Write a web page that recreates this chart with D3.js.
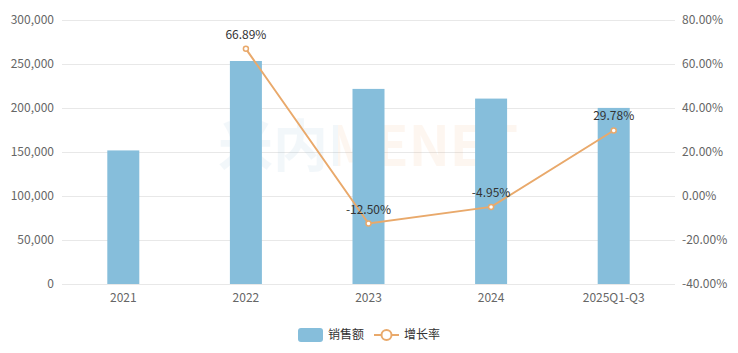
<!DOCTYPE html>
<html><head><meta charset="utf-8">
<script src="https://cdn.jsdelivr.net/npm/d3@7"></script>
<style>body{margin:0;background:#fff;font-family:"Microsoft YaHei","Noto Sans CJK SC","Noto Sans",sans-serif;}</style>
</head><body><svg id="c" width="738" height="353"></svg>
<script>
const categories = ["2021","2022","2023","2024","2025Q1-Q3"];
const sales = [151800, 253400, 221700, 210700, 200100];
const growth = [null, 66.89, -12.50, -4.95, 29.78];
const leftTicks = [0,50000,100000,150000,200000,250000,300000];
const rightTicks = [-40,-20,0,20,40,60,80];
const seriesNames = ["销售额","增长率"];

const svg = d3.select("#c");
const L = 62, R = 675, T = 20, B = 284;
const x = d3.scaleBand().domain(categories).range([L,R]);
const yL = d3.scaleLinear().domain([0,300000]).range([B,T]);
const yR = d3.scaleLinear().domain([-40,80]).range([B,T]);
const barColor = "#86bedb", lineColor = "#e9a96b";
const font = "'Microsoft YaHei','Noto Sans CJK SC','Noto Sans',sans-serif";

// grid
svg.append("g").selectAll("line").data(leftTicks).join("line")
  .attr("x1",L).attr("x2",R).attr("y1",d=>yL(d)+0.5).attr("y2",d=>yL(d)+0.5)
  .attr("stroke","#e8e8e8").attr("stroke-width",1);

// left axis labels
svg.append("g").selectAll("text").data(leftTicks).join("text")
  .attr("x",54).attr("y",d=>yL(d)).attr("dy","0.35em").attr("text-anchor","end")
  .attr("font-size",12).attr("fill","#666").attr("font-family",font)
  .text(d=>d3.format(",")(d));
// right axis labels
svg.append("g").selectAll("text").data(rightTicks).join("text")
  .attr("x",682).attr("y",d=>yR(d)).attr("dy","0.35em").attr("text-anchor","start")
  .attr("font-size",12).attr("fill","#666").attr("font-family",font)
  .text(d=>d.toFixed(2)+"%");
// x labels
svg.append("g").selectAll("text").data(categories).join("text")
  .attr("x",d=>x(d)+x.bandwidth()/2).attr("y",302).attr("text-anchor","middle")
  .attr("font-size",12).attr("fill","#666").attr("font-family",font)
  .text(d=>d);

// watermark: single text, two-tone via gradient
const defs = svg.append("defs");
const gr = defs.append("linearGradient").attr("id","wmg").attr("gradientUnits","userSpaceOnUse")
  .attr("x1",218).attr("x2",518).attr("y1",0).attr("y2",0);
gr.append("stop").attr("offset","0.4").attr("stop-color","#5b9bc8");
gr.append("stop").attr("offset","0.4").attr("stop-color","#f08a3c");
svg.append("text").attr("x",218).attr("y",166).attr("font-size",56).attr("font-weight","bold")
  .attr("font-family","'Noto Sans CJK SC',sans-serif").attr("opacity",0.07)
  .attr("textLength",300).attr("lengthAdjust","spacingAndGlyphs")
  .attr("fill","url(#wmg)").text("米内MENET");

// bars
const bw = 32;
svg.append("g").selectAll("rect").data(sales).join("rect")
  .attr("x",(d,i)=>x(categories[i])+x.bandwidth()/2-bw/2)
  .attr("width",bw).attr("y",d=>yL(d)).attr("height",d=>B-yL(d))
  .attr("fill",barColor);

// line
const pts = growth.map((g,i)=>({c:categories[i],g})).filter(p=>p.g!==null);
const line = d3.line().x(p=>x(p.c)+x.bandwidth()/2).y(p=>yR(p.g));
svg.append("path").datum(pts).attr("d",line).attr("fill","none")
  .attr("stroke",lineColor).attr("stroke-width",2);
svg.append("g").selectAll("circle").data(pts).join("circle")
  .attr("cx",p=>x(p.c)+x.bandwidth()/2).attr("cy",p=>yR(p.g)).attr("r",2.5)
  .attr("fill","#fff").attr("stroke",lineColor).attr("stroke-width",1.5);
svg.append("g").selectAll("text").data(pts).join("text")
  .attr("x",p=>x(p.c)+x.bandwidth()/2).attr("y",p=>yR(p.g)-10).attr("text-anchor","middle")
  .attr("font-size",12).attr("fill","#333").attr("font-family",font)
  .text(p=>p.g.toFixed(2)+"%");

// legend
const lg = svg.append("g");
lg.append("rect").attr("x",298).attr("y",328).attr("width",25).attr("height",14).attr("rx",3).attr("fill",barColor);
lg.append("text").attr("x",328).attr("y",335).attr("dy","0.35em").attr("font-size",12).attr("fill","#333").attr("font-family",font).text(seriesNames[0]);
lg.append("line").attr("x1",374).attr("x2",399).attr("y1",335).attr("y2",335).attr("stroke",lineColor).attr("stroke-width",2);
lg.append("circle").attr("cx",386.5).attr("cy",335).attr("r",5).attr("fill","#fff").attr("stroke",lineColor).attr("stroke-width",2);
lg.append("text").attr("x",404).attr("y",335).attr("dy","0.35em").attr("font-size",12).attr("fill","#333").attr("font-family",font).text(seriesNames[1]);
</script></body></html>
